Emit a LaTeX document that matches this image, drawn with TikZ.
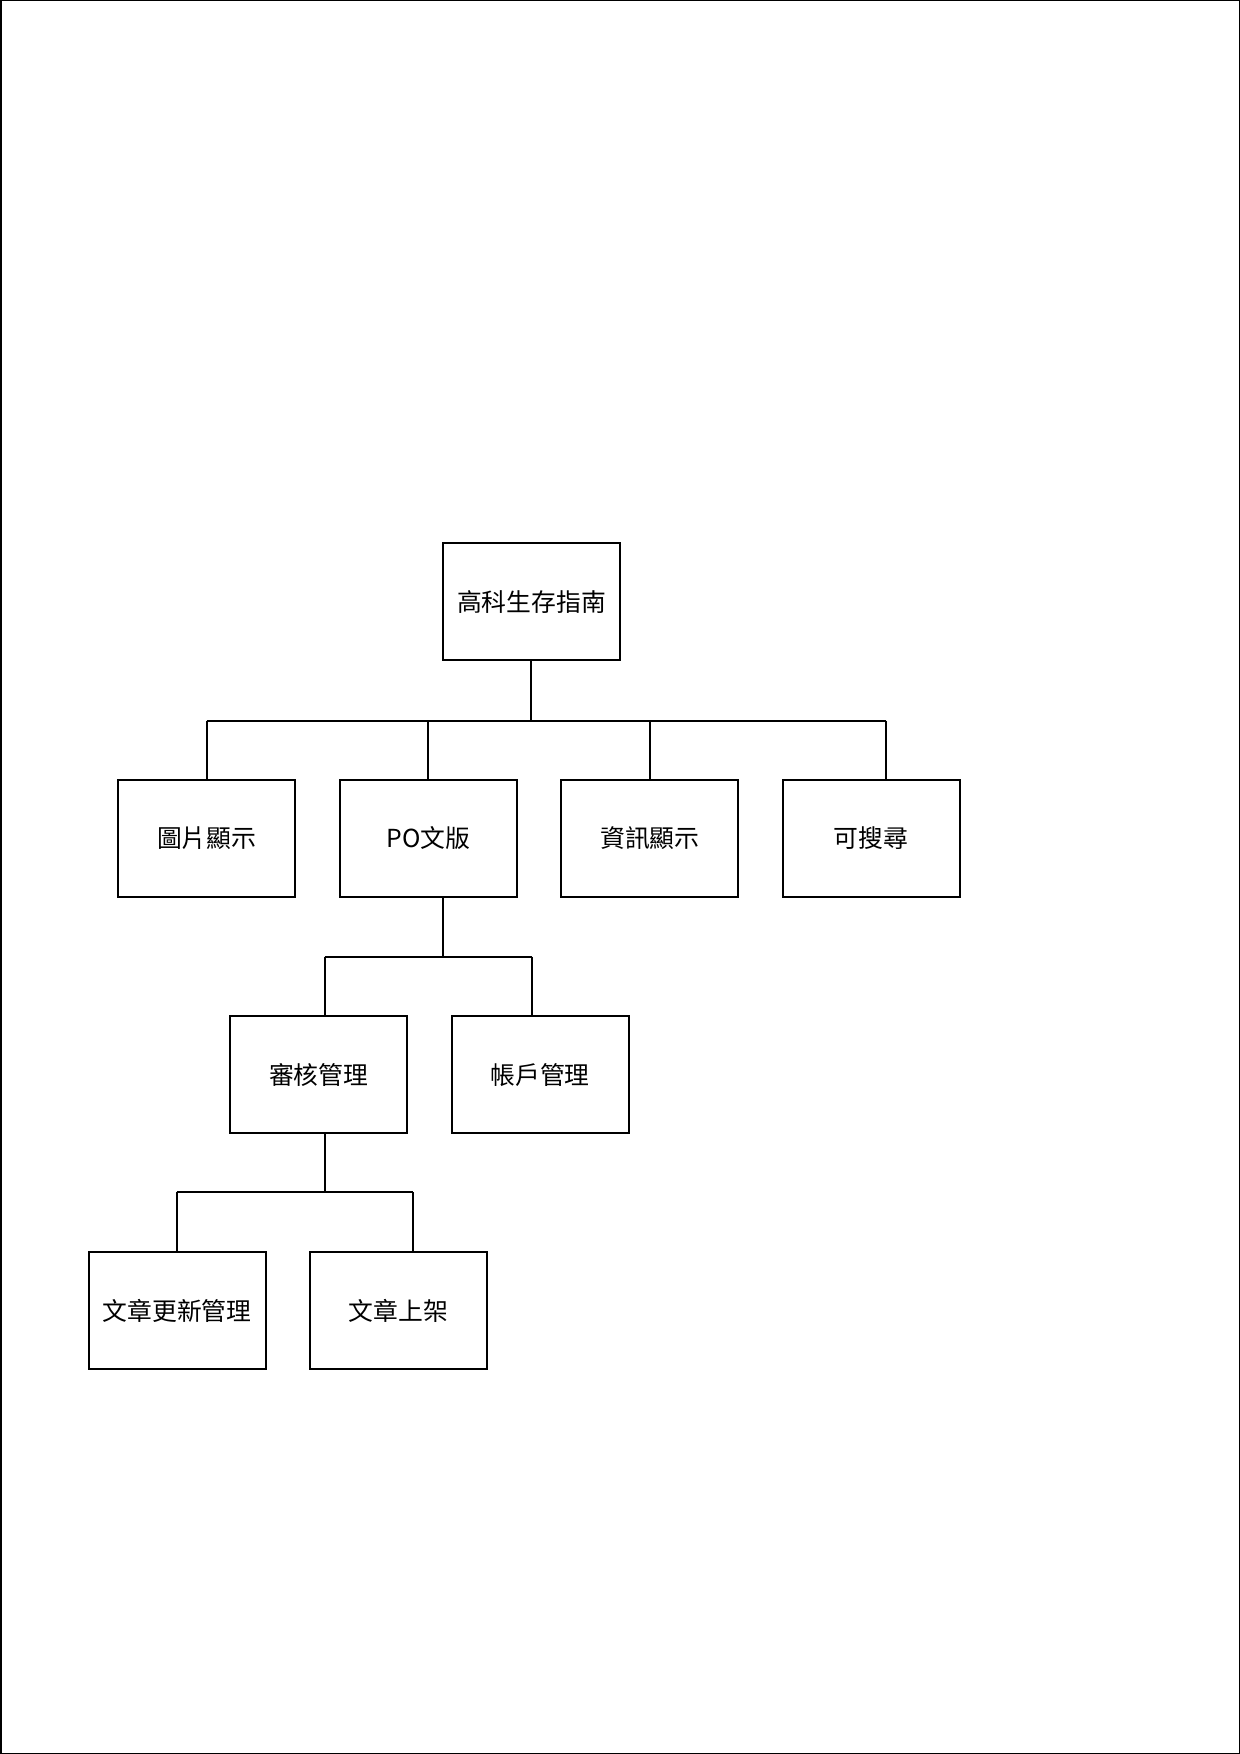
\documentclass[tikz,border=0pt]{standalone}
\usepackage{fontspec}
\setmainfont{Noto Sans CJK TC}
\begin{document}
\begin{tikzpicture}[x=0.5pt,y=-0.5pt,
  box/.style={draw, line width=1pt, minimum width=88.5pt, minimum height=58.5pt,
    inner sep=0pt, font=\fontsize{12.4pt}{14pt}\selectfont},
  link/.style={line width=0.9pt}]
\useasboundingbox (0,0) rectangle (1240,1754);
% page frame
\draw[line width=0.75pt] (0.75,0.75) rectangle (1239.25,1753.25);

% boxes
\node[box] (root)    at (531.5,601.8)  {高科生存指南};
\node[box] (img)     at (206.65,838.5) {圖片顯示};
\node[box] (po)      at (428.2,838.5)  {PO文版};
\node[box] (info)    at (649.8,838.5)  {資訊顯示};
\node[box] (search)  at (871,838.5)    {可搜尋};
\node[box] (audit)   at (318.65,1074.85) {審核管理};
\node[box] (account) at (540,1074.85)  {帳戶管理};
\node[box] (update)  at (177,1310.85)  {文章更新管理};
\node[box] (publish) at (398.5,1310.85) {文章上架};

% first level bus
\coordinate (tap1) at (531.3,720.7);
\coordinate (busL) at (206.7,720.7);
\coordinate (busR) at (885.7,720.7);
\draw[link] (tap1 |- root.south) -- (tap1);
\draw[link] (busL) -- (busR);
\draw[link] (busL) -- (busL |- img.north);
\draw[link] (po.north |- busL) -- (po.north);
\draw[link] (info.north |- busL) -- (info.north);
\draw[link] (busR) -- (busR |- search.north);

% second level bus
\coordinate (tap2) at (442.7,956.7);
\coordinate (bus2L) at (324.7,956.7);
\coordinate (bus2R) at (531.7,956.7);
\draw[link] (tap2 |- po.south) -- (tap2);
\draw[link] (bus2L) -- (bus2R);
\draw[link] (bus2L) -- (bus2L |- audit.north);
\draw[link] (bus2R) -- (bus2R |- account.north);

% third level bus
\coordinate (tap3) at (325,1192.3);
\coordinate (bus3L) at (176.7,1192.3);
\coordinate (bus3R) at (413.3,1192.3);
\draw[link] (tap3 |- audit.south) -- (tap3);
\draw[link] (bus3L) -- (bus3R);
\draw[link] (bus3L) -- (bus3L |- update.north);
\draw[link] (bus3R) -- (bus3R |- publish.north);
\end{tikzpicture}
\end{document}
